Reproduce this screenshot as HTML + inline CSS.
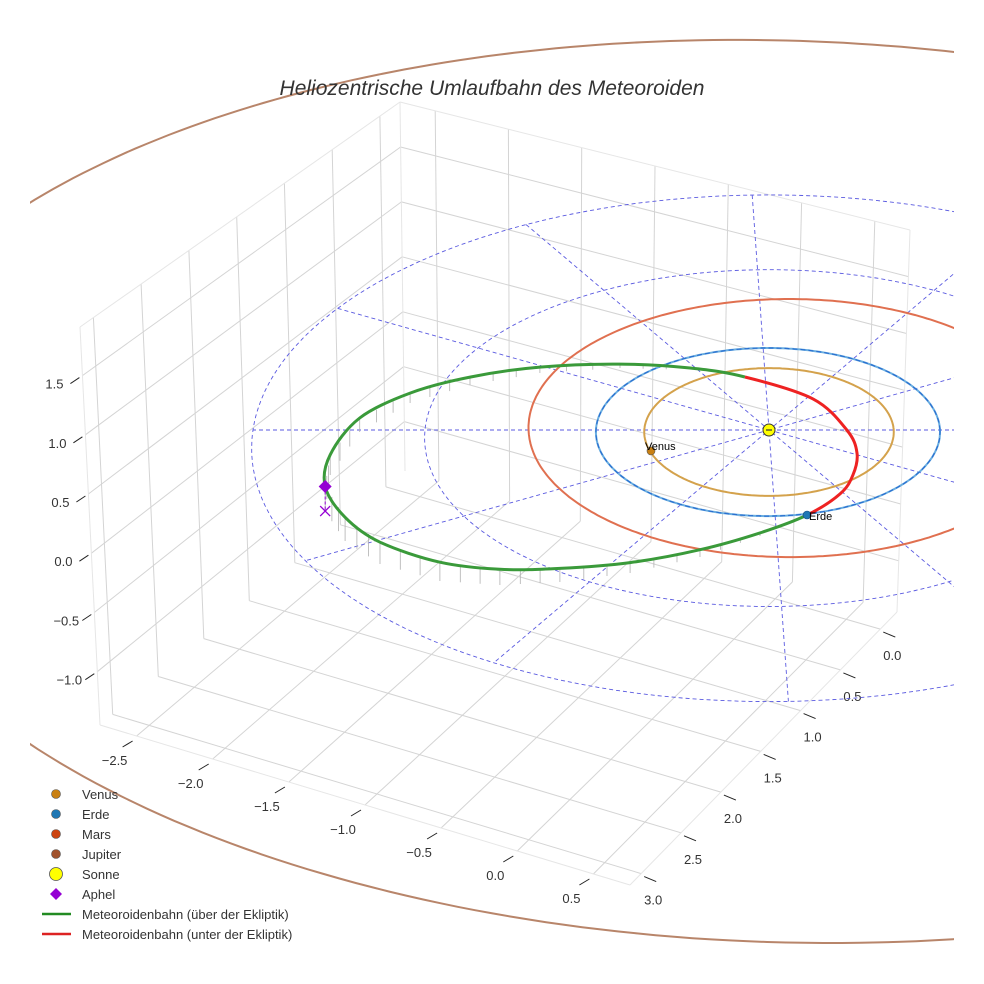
<!DOCTYPE html>
<html><head><meta charset="utf-8"><style>
html,body{margin:0;padding:0;background:#fff;}
svg{display:block;font-family:"Liberation Sans",sans-serif;}
</style></head><body>
<svg id="chart" width="984" height="984" viewBox="0 0 984 984" xmlns="http://www.w3.org/2000/svg">
<defs><clipPath id="clip"><rect x="30" y="30" width="924" height="930"/></clipPath></defs>
<rect x="0" y="0" width="984" height="984" fill="#fff"/>
<g id="grid"></g>
<g id="ticks"></g>
<g id="orbits" clip-path="url(#clip)"></g>
<g id="marks"></g>
<text x="492" y="95" text-anchor="middle" font-size="21" font-style="italic" fill="#333">Heliozentrische Umlaufbahn des Meteoroiden</text>
<g id="legend" font-size="13" fill="#333">
 <g><circle cx="56" cy="794" r="4.5" fill="#c98012" stroke="#555" stroke-width="0.6"/><text x="82" y="799">Venus</text></g>
 <g><circle cx="56" cy="814" r="4.5" fill="#1f77b4" stroke="#555" stroke-width="0.6"/><text x="82" y="819">Erde</text></g>
 <g><circle cx="56" cy="834" r="4.5" fill="#cc4411" stroke="#555" stroke-width="0.6"/><text x="82" y="839">Mars</text></g>
 <g><circle cx="56" cy="854" r="4.5" fill="#a0522d" stroke="#555" stroke-width="0.6"/><text x="82" y="859">Jupiter</text></g>
 <g><circle cx="56" cy="874" r="6.5" fill="#ffff00" stroke="#555" stroke-width="0.8"/><text x="82" y="879">Sonne</text></g>
 <g><path d="M56 888 L62 894 L56 900 L50 894 Z" fill="#9400d3"/><text x="82" y="899">Aphel</text></g>
 <g><line x1="42" y1="914" x2="71" y2="914" stroke="#228b22" stroke-width="2.5"/><text x="82" y="919">Meteoroidenbahn (über der Ekliptik)</text></g>
 <g><line x1="42" y1="934" x2="71" y2="934" stroke="#dd2222" stroke-width="2.5"/><text x="82" y="939">Meteoroidenbahn (unter der Ekliptik)</text></g>
</g>
</svg>
<script>
// ---- data ----
const xTicks=[-2.5,-2.0,-1.5,-1.0,-0.5,0.0,0.5];
const yTicks=[0.0,0.5,1.0,1.5,2.0,2.5,3.0];
const zTicks=[-1.0,-0.5,0.0,0.5,1.0,1.5];
const xTickLabels=['\u22122.5','\u22122.0','\u22121.5','\u22121.0','\u22120.5','0.0','0.5'];
const yTickLabels=['0.0','0.5','1.0','1.5','2.0','2.5','3.0'];
const zTickLabels=['\u22121.0','\u22120.5','0.0','0.5','1.0','1.5'];
const planetNames=['Venus','Erde','Mars','Jupiter'];
const orbitRx=[0.725,1.0,1.52,5.5];
const orbitRy=[0.76,1.0,1.54,5.2];
const orbitCx=[0,-0.006,0.12,0.05];
const orbitCy=[0.01,0,-0.08,0.05];
const orbitRot=[0,0,0,-150];
const gridRadii=[2,3];
const radialAngles=[0,30,60,92,120,150];
const venusPos=[-0.682,0.248];
const earthPos=[0.216,0.988];
const aphelPos=[-2.522,0.943,0.24];
const meteorX=[-2.522,-2.519,-2.378,-2.103,-1.761,-1.354,-0.882,-0.467,-0.142,0.258,0.453,0.509,0.482,0.405,0.216,-0.051,-0.387,-0.776,-1.165,-1.498,-1.834,-2.178,-2.389];
const meteorY=[0.943,0.529,0.024,-0.324,-0.543,-0.690,-0.751,-0.727,-0.641,-0.397,-0.036,0.237,0.506,0.737,0.988,1.225,1.459,1.636,1.734,1.767,1.723,1.536,1.281];
const meteorZ=[0.24,0.20,0.14,0.10,0.08,0.06,0.04,0.02,0,-0.02,-0.03,-0.03,-0.02,-0.01,0,0.03,0.07,0.10,0.13,0.15,0.18,0.21,0.23];
const xRange=[-2.74,0.74], yRange=[-0.21,3.14], zRange=[-1.45,1.91];

// ---- geometry ----
const NS='http://www.w3.org/2000/svg';
function P(X,Y,Z){Z=Z||0;const f=1/(1-0.024*Y);return [769+172*X*f,430+(84*Y-100*Z)*f];}
function lerp(a,b,t){return [a[0]+(b[0]-a[0])*t,a[1]+(b[1]-a[1])*t];}
function bil(q,u,v){return lerp(lerp(q.bl,q.br,u),lerp(q.tl,q.tr,u),v);}
const LW={tl:[80,327],tr:[400,102],br:[405,471],bl:[100,725]};
const BW={tl:[400,102],tr:[910,230],br:[897,612],bl:[405,471]};
const FL={bl:[100,725],br:[630,885],tr:[897,612],tl:[405,471]};
const fx=x=>(x-xRange[0])/(xRange[1]-xRange[0]);
const fy=y=>(y-yRange[0])/(yRange[1]-yRange[0]);
const fz=z=>(z-zRange[0])/(zRange[1]-zRange[0]);
function mk(tag,attrs,parent){const e=document.createElementNS(NS,tag);for(const k in attrs)e.setAttribute(k,attrs[k]);parent.appendChild(e);return e;}
function line(a,b,st,w,parent,dash){const e=mk('line',{x1:a[0].toFixed(1),y1:a[1].toFixed(1),x2:b[0].toFixed(1),y2:b[1].toFixed(1),stroke:st,'stroke-width':w},parent);if(dash)e.setAttribute('stroke-dasharray',dash);return e;}
const grid=document.getElementById('grid');
const GC='#d4d4d4';
yTicks.forEach(y=>{const u=1-fy(y);const e=line(bil(LW,u,0),bil(LW,u,1),GC,1,grid);

});
zTicks.forEach(z=>{const v=fz(z);const e=line(bil(LW,0,v),bil(LW,1,v),GC,1,grid);

});
xTicks.forEach(x=>{const u=fx(x);const e=line(bil(BW,u,0),bil(BW,u,1),GC,1,grid);

});
zTicks.forEach(z=>{const v=fz(z);const e=line(bil(BW,0,v),bil(BW,1,v),GC,1,grid);

});
xTicks.forEach(x=>{const u=fx(x);const e=line(bil(FL,u,0),bil(FL,u,1),GC,1,grid);

});
yTicks.forEach(y=>{const v=1-fy(y);const e=line(bil(FL,0,v),bil(FL,1,v),GC,1,grid);

});
[[LW.tl,LW.tr],[LW.bl,LW.tl],[BW.tl,BW.tr],[BW.tr,BW.br],[LW.tr,LW.br],[FL.bl,FL.br],[FL.br,FL.tr]].forEach(p=>{const e=line(p[0],p[1],'#e6e6e6',1,grid);

});
const tk=document.getElementById('ticks');
function label(txt,p,name){const t=mk('text',{x:p[0].toFixed(1),y:p[1].toFixed(1),'text-anchor':'middle','font-size':'13',fill:'#333'},tk);t.textContent=txt;

}
xTicks.forEach((x,i)=>{const e=lerp(FL.bl,FL.br,fx(x));line([e[0]-4,e[1]+5],[e[0]-14,e[1]+11],'#222',1,tk);label(xTickLabels[i],[e[0]-22,e[1]+29],'x-tick-label');});
yTicks.forEach((y,i)=>{const e=lerp(FL.tr,FL.br,fy(y));line([e[0]+3,e[1]+3],[e[0]+15,e[1]+8],'#222',1,tk);label(yTickLabels[i],[e[0]+12,e[1]+31],'y-tick-label');});
zTicks.forEach((z,i)=>{const e=lerp(LW.bl,LW.tl,fz(z));line([e[0]-3,e[1]+2],[e[0]-12,e[1]+8],'#222',1,tk);label(zTickLabels[i],[e[0]-28,e[1]+13],'z-tick-label');});
const og=document.getElementById('orbits');
function ellPath(cx,cy,rx,ry,rot){rot=(rot||0)*Math.PI/180;const ux=Math.cos(rot),uy=Math.sin(rot);let d='';for(let i=0;i<=360;i++){const a=i*Math.PI/180;const c=rx*Math.cos(a),s2=ry*Math.sin(a);const p=P(cx+c*ux-s2*uy,cy+c*uy+s2*ux);d+=(i?'L':'M')+p[0].toFixed(1)+' '+p[1].toFixed(1);}return d+'Z';}
gridRadii.forEach(r=>{const e=mk('path',{d:ellPath(0,0,r,r),fill:'none',stroke:'#5a5ae0','stroke-width':0.9,'stroke-dasharray':'4 3'},og);

});
radialAngles.forEach(a=>{const r=3,t=a*Math.PI/180;const e=line(P(r*Math.cos(t),-r*Math.sin(t)),P(-r*Math.cos(t),r*Math.sin(t)),'#5a5ae0',0.9,og,'4 3');

});
const orbitColors=['#d4a24c','#6aaee0','#e07050','#b8856a'];
planetNames.forEach((n,i)=>{const e=mk('path',{d:ellPath(orbitCx[i],orbitCy[i],orbitRx[i],orbitRy[i],orbitRot[i]),fill:'none',stroke:orbitColors[i],'stroke-width':2},og);

});
const ed=mk('path',{d:ellPath(orbitCx[1],orbitCy[1],orbitRx[1],orbitRy[1],orbitRot[1]),fill:'none',stroke:'#2a6fd0','stroke-width':1.2,'stroke-dasharray':'5 3'},og);


const N=meteorX.length;
for(let i=0;i<N;i++){const j=(i+1)%N;for(const t of [0,0.33,0.66]){const X=meteorX[i]+(meteorX[j]-meteorX[i])*t,Y=meteorY[i]+(meteorY[j]-meteorY[i])*t,Z=meteorZ[i]+(meteorZ[j]-meteorZ[i])*t;if(Z>0.02){const e=line(P(X,Y,Z),P(X,Y,0),'#b0b0b0',0.8,og);

}}}
const pts=meteorX.map((x,i)=>P(x,meteorY[i],meteorZ[i]));
function seg(i){const p0=pts[(i-1+N)%N],p1=pts[i],p2=pts[(i+1)%N],p3=pts[(i+2)%N];
const c1=[p1[0]+(p2[0]-p0[0])/6,p1[1]+(p2[1]-p0[1])/6],c2=[p2[0]-(p3[0]-p1[0])/6,p2[1]-(p3[1]-p1[1])/6];
return 'C'+c1[0].toFixed(1)+' '+c1[1].toFixed(1)+' '+c2[0].toFixed(1)+' '+c2[1].toFixed(1)+' '+p2[0].toFixed(1)+' '+p2[1].toFixed(1);}
let gd='M'+pts[14][0].toFixed(1)+' '+pts[14][1].toFixed(1),rd='M'+pts[8][0].toFixed(1)+' '+pts[8][1].toFixed(1);
for(let k=14;k<N+8;k++){const i=k%N;gd+=seg(i);}
for(let i=8;i<14;i++)rd+=seg(i);
const gp=mk('path',{d:gd,fill:'none',stroke:'#3a9a3a','stroke-width':3},og);


const rp=mk('path',{d:rd,fill:'none',stroke:'#ee2222','stroke-width':3},og);


const mg=document.getElementById('marks');
const s=P(0,0);
const sun=mk('circle',{cx:s[0],cy:s[1],r:6,fill:'#ffff00',stroke:'#333','stroke-width':1},mg);


line([s[0]-3,s[1]],[s[0]+3,s[1]],'#333',1.2,mg);
const vp=P(venusPos[0],venusPos[1]);
const vm=mk('circle',{cx:vp[0],cy:vp[1],r:4,fill:'#c98012',stroke:'#555','stroke-width':0.6},mg);


const vt=mk('text',{x:vp[0]-6,y:vp[1]-1,'font-size':'11',fill:'#000'},mg);vt.textContent='Venus';


const ep=P(earthPos[0],earthPos[1]);
const em=mk('circle',{cx:ep[0],cy:ep[1],r:4,fill:'#1f77b4',stroke:'#1a4a80','stroke-width':0.6},mg);


const et=mk('text',{x:ep[0]+2,y:ep[1]+5,'font-size':'11',fill:'#000'},mg);et.textContent='Erde';


const ap=P(aphelPos[0],aphelPos[1],aphelPos[2]),ag=P(aphelPos[0],aphelPos[1],0);
line(ap,ag,'#9400d3',1,mg,'3 2');
const am=mk('path',{d:`M${ap[0]} ${ap[1]-6.5}L${ap[0]+6.5} ${ap[1]}L${ap[0]} ${ap[1]+6.5}L${ap[0]-6.5} ${ap[1]}Z`,fill:'#9400d3'},mg);


const ax=mk('path',{d:`M${ag[0]-5} ${ag[1]-5}L${ag[0]+5} ${ag[1]+5}M${ag[0]+5} ${ag[1]-5}L${ag[0]-5} ${ag[1]+5}`,stroke:'#9400d3','stroke-width':1.3,fill:'none'},mg);


</script>
</body></html>
